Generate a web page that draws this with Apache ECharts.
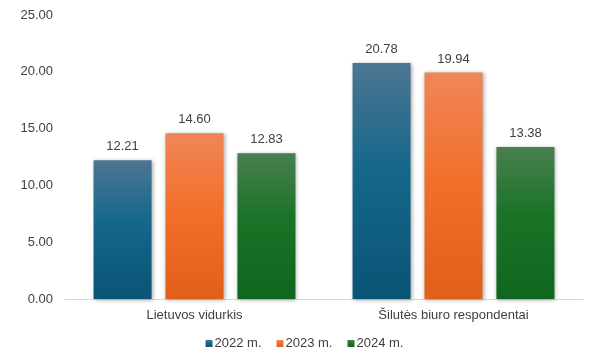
<!DOCTYPE html>
<html><head><meta charset="utf-8">
<script src="https://cdn.jsdelivr.net/npm/echarts@6/dist/echarts.min.js"></script>
<style>html,body{margin:0;padding:0;background:#fff}#c{width:609px;height:361px}</style>
</head><body><div id="c"></div>
<script>
const categories = ['Lietuvos vidurkis', 'Šilutės biuro respondentai'];
const seriesNames = ['2022 m.', '2023 m.', '2024 m.'];
const values2022 = [12.21, 20.78];
const values2023 = [14.60, 19.94];
const values2024 = [12.83, 13.38];
const yTicks = [0, 5, 10, 15, 20, 25];

const grads = [
  ['#4c7592', '#15678b', '#0a5475'],
  ['#ef8658', '#f2702c', '#e25f1a'],
  ['#497f50', '#1a7327', '#0f661e']
];
function grad(c){
  return new echarts.graphic.LinearGradient(0,0,0,1,[
    {offset:0,color:c[0]},{offset:0.45,color:c[1]},{offset:1,color:c[2]}]);
}
const data = [values2022, values2023, values2024];
const chart = echarts.init(document.getElementById('c'));
chart.setOption({
  animation:false,
  textStyle:{fontFamily:'Liberation Sans, Arial, sans-serif'},
  grid:{left:65,right:26,top:15,bottom:62,containLabel:false},
  legend:{bottom:6,left:'center',itemWidth:7,itemHeight:7,itemGap:15,
    icon:'rect',textStyle:{color:'#404040',fontSize:13,padding:[0,0,0,-3]},data:seriesNames},
  xAxis:{type:'category',data:categories,
    axisLine:{lineStyle:{color:'#d9d9d9'}},axisTick:{show:false},
    axisLabel:{color:'#404040',fontSize:13,margin:10}},
  yAxis:{type:'value',min:yTicks[0],max:yTicks[yTicks.length-1],interval:5,
    splitLine:{show:false},axisLine:{show:false},axisTick:{show:false},
    axisLabel:{color:'#404040',fontSize:13,margin:12,formatter:v=>v.toFixed(2)}},
  series: seriesNames.map((n,i)=>({
    name:n,type:'bar',data:data[i],barWidth:'22.4%',barGap:'24%',
    itemStyle:{color:grad(grads[i]),shadowColor:'rgba(0,0,0,0.35)',shadowBlur:4,shadowOffsetX:1,shadowOffsetY:1},
    label:{show:true,position:'top',distance:7,color:'#404040',fontSize:13,formatter:p=>p.value.toFixed(2)}
  }))
});
</script></body></html>
